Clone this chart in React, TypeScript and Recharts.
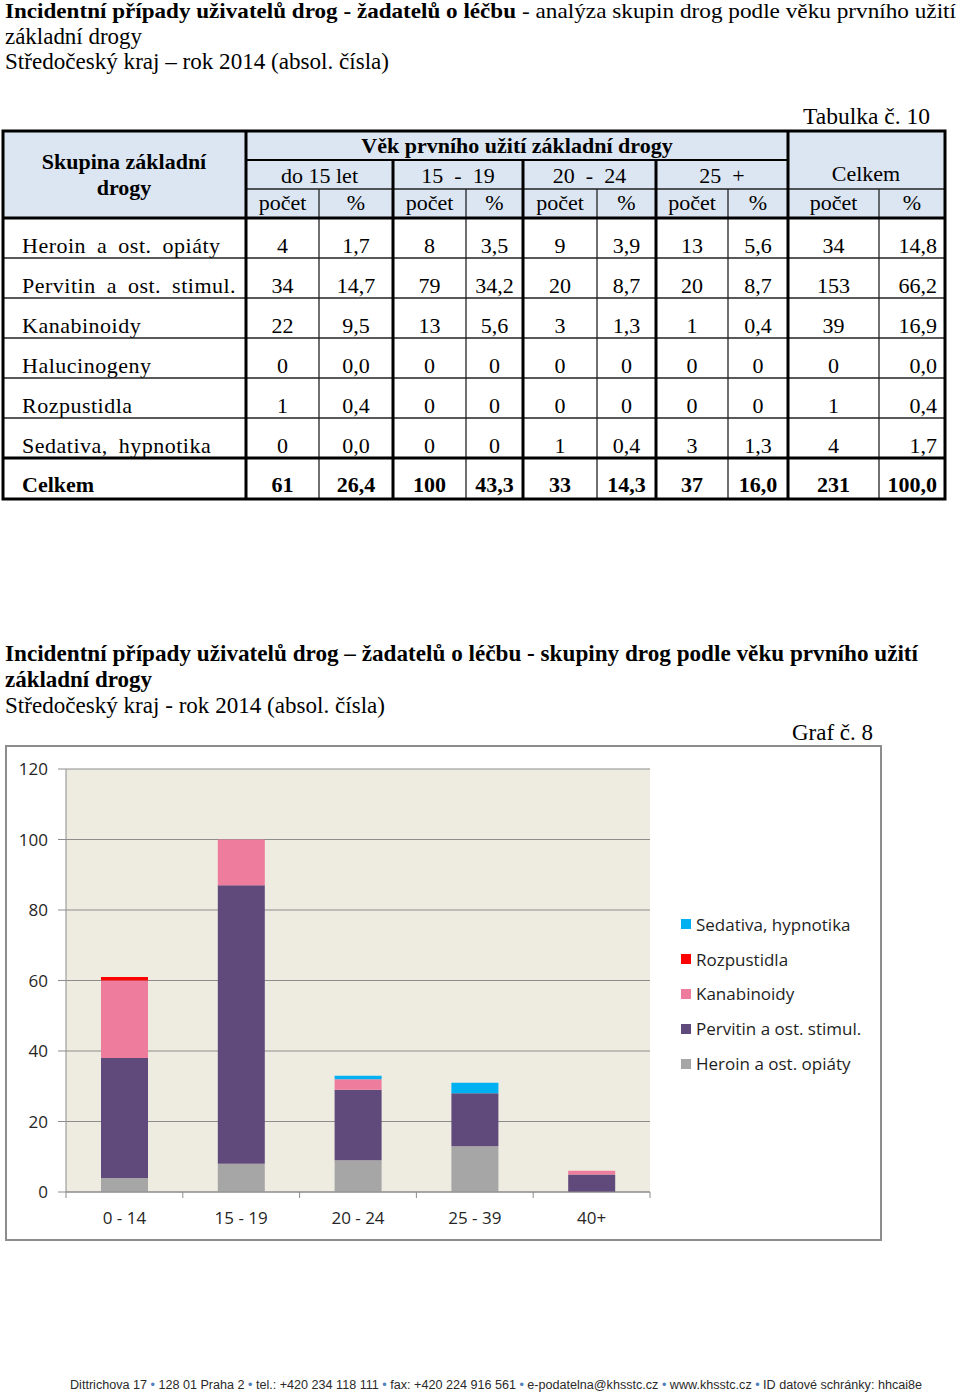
import { Bar, BarChart, CartesianGrid, Legend, XAxis, YAxis } from "recharts";

// ---- chart data (Graf č. 8) ----
const ageCategories = ["0 - 14", "15 - 19", "20 - 24", "25 - 39", "40+"];
const heroin = [4, 8, 9, 13, 0];
const pervitin = [34, 79, 20, 15, 5];
const kanabinoidy = [22, 13, 3, 0, 1];
const rozpustidla = [1, 0, 0, 0, 0];
const sedativa = [0, 0, 1, 3, 0];
const yTicks = [0, 20, 40, 60, 80, 100, 120];
// stacking order, bottom -> top (legend shows it reversed)
const seriesOrder = ["heroin", "pervitin", "kanabinoidy", "rozpustidla", "sedativa"];

// ---- table data (Tabulka č. 10) ----
const drugGroups = [
  "Heroin a ost. opiáty",
  "Pervitin a ost. stimul.",
  "Kanabinoidy",
  "Halucinogeny",
  "Rozpustidla",
  "Sedativa, hypnotika",
];
const ageHeaders = ["do 15 let", "15  -  19", "20  -  24", "25  +"];
const countU15 = ["4", "34", "22", "0", "1", "0"];
const pctU15 = ["1,7", "14,7", "9,5", "0,0", "0,4", "0,0"];
const count1519 = ["8", "79", "13", "0", "0", "0"];
const pct1519 = ["3,5", "34,2", "5,6", "0", "0", "0"];
const count2024 = ["9", "20", "3", "0", "0", "1"];
const pct2024 = ["3,9", "8,7", "1,3", "0", "0", "0,4"];
const count25 = ["13", "20", "1", "0", "0", "3"];
const pct25 = ["5,6", "8,7", "0,4", "0", "0", "1,3"];
const countTotal = ["34", "153", "39", "0", "1", "4"];
const pctTotal = ["14,8", "66,2", "16,9", "0,0", "0,4", "1,7"];
const totalsRow = ["61", "26,4", "100", "43,3", "33", "14,3", "37", "16,0", "231", "100,0"];

const footerParts = [
  "Dittrichova 17",
  "128 01 Praha 2",
  "tel.: +420 234 118 111",
  "fax: +420 224 916 561",
  "e-podatelna@khsstc.cz",
  "www.khsstc.cz",
  "ID datové schránky: hhcai8e",
];

const chartData = ageCategories.map((age, i) => ({
  age,
  heroin: heroin[i],
  pervitin: pervitin[i],
  kanabinoidy: kanabinoidy[i],
  rozpustidla: rozpustidla[i],
  sedativa: sedativa[i],
}));

const SERIF = '"Liberation Serif", "Times New Roman", serif';
const SANS = '"Open Sans", "Noto Sans", sans-serif';
const AXIS = "#8C8C8C";

// table geometry
const colX = [3, 246, 319, 393, 466, 523, 597, 656, 728, 788, 879, 945];
const rowY = [218, 258, 298, 338, 378, 418, 458, 499];

const CHART_W = 876;
const CHART_H = 494;
const MARGIN = { top: 23, right: 231, bottom: 18, left: 0 };
const Y_AXIS_W = 61;
const X_TICK_GAP = 20;
const HALF_BAND = (CHART_W - MARGIN.right - MARGIN.left - Y_AXIS_W) / ageCategories.length / 2;

function CategoryTick(props: any) {
  const { x, y, payload, index } = props;
  const half = payload?.offset || HALF_BAND;
  const axisY = y - X_TICK_GAP;
  return (
    <g>
      {index === 0 && (
        <line x1={x - half} x2={x - half} y1={axisY} y2={axisY + 6} stroke={AXIS} />
      )}
      <line x1={x + half} x2={x + half} y1={axisY} y2={axisY + 6} stroke={AXIS} />
      <text
        x={x}
        y={y}
        dy="0.71em"
        textAnchor="middle"
        fill="#262626"
        fontSize={17}
        fontFamily={SANS}
      >
        {payload.value}
      </text>
    </g>
  );
}

function LegendBox(props: any) {
  const items = [...(props.payload ?? [])].sort(
    (a: any, b: any) => seriesOrder.indexOf(b.dataKey) - seriesOrder.indexOf(a.dataKey)
  );
  return (
    <div style={{ fontFamily: SANS, fontSize: 17, color: "#1e1e1e" }}>
      {items.map((it: any) => (
        <div
          key={it.value}
          style={{ height: 34.8, display: "flex", alignItems: "center", whiteSpace: "nowrap" }}
        >
          <span
            style={{
              width: 10,
              height: 10,
              background: it.color,
              marginRight: 5,
              display: "inline-block",
            }}
          />
          <span>{it.value}</span>
        </div>
      ))}
    </div>
  );
}

function TableSvg() {
  const center = (a: number, b: number) => (colX[a] + colX[b]) / 2;
  const columns = [countU15, pctU15, count1519, pct1519, count2024, pct2024, count25, pct25, countTotal, pctTotal];
  const cellText = (v: string, c: number, baseline: number, bold = false) => {
    const last = c === columns.length - 1;
    return (
      <text
        key={`${c}-${baseline}`}
        x={last ? colX[c + 2] - 8 : center(c + 1, c + 2)}
        y={baseline}
        textAnchor={last ? "end" : "middle"}
        fontWeight={bold ? "bold" : "normal"}
      >
        {v}
      </text>
    );
  };
  return (
    <g fontFamily={SERIF} fontSize={22} fill="#000">
      <rect x={3} y={131} width={942} height={87} fill="#DCE6F2" />
      {/* header text */}
      <text x={124} y={169} textAnchor="middle" fontWeight="bold">Skupina základní</text>
      <text x={124} y={195} textAnchor="middle" fontWeight="bold">drogy</text>
      <text x={517} y={153} textAnchor="middle" fontWeight="bold">Věk prvního užití základní drogy</text>
      {ageHeaders.map((h, i) => (
        <text key={h} x={center(1 + i * 2, 3 + i * 2)} y={183} textAnchor="middle" style={{ whiteSpace: "pre" }}>
          {h}
        </text>
      ))}
      <text x={866} y={181} textAnchor="middle">Celkem</text>
      {columns.map((_, c) => (
        <text key={c} x={center(c + 1, c + 2)} y={210} textAnchor="middle">
          {c % 2 === 0 ? "počet" : "%"}
        </text>
      ))}
      {/* body */}
      {drugGroups.map((g, r) => (
        <text key={g} x={22} y={rowY[r + 1] - 5} letterSpacing={0.5} wordSpacing={5}>
          {g}
        </text>
      ))}
      {drugGroups.map((_, r) => columns.map((col, c) => cellText(col[r], c, rowY[r + 1] - 5)))}
      <text x={22} y={492} fontWeight="bold">Celkem</text>
      {totalsRow.map((v, c) => cellText(v, c, 492, true))}
      {/* thin lines */}
      <g stroke="#222" strokeWidth={1.3}>
        {rowY.slice(1, 6).map((y) => (
          <line key={y} x1={3} x2={945} y1={y} y2={y} />
        ))}
        <line x1={246} x2={945} y1={189} y2={189} />
        {[2, 4, 6, 8, 10].map((c) => (
          <line key={c} x1={colX[c]} x2={colX[c]} y1={189} y2={499} />
        ))}
      </g>
      <g stroke="#000" strokeWidth={2}>
        <line x1={246} x2={788} y1={160} y2={160} />
      </g>
      <g stroke="#000" strokeWidth={3}>
        <line x1={3} x2={945} y1={218} y2={218} />
        <line x1={3} x2={945} y1={458} y2={458} />
        <line x1={246} x2={246} y1={131} y2={499} />
        <line x1={788} x2={788} y1={131} y2={499} />
        {[3, 5, 7].map((c) => (
          <line key={c} x1={colX[c]} x2={colX[c]} y1={160} y2={499} />
        ))}
        <rect x={3} y={131} width={942} height={368} fill="none" />
      </g>
    </g>
  );
}

export default function App() {
  return (
    <div style={{ position: "absolute", left: 0, top: 0, width: 960, height: 1394, background: "#fff" }}>
      <svg width={960} height={1394} style={{ position: "absolute", left: 0, top: 0 }}>
        <g fontFamily={SERIF} fontSize={23} fill="#000">
          <text x={5} y={18} fontSize={21} fontWeight="bold" textLength={511} lengthAdjust="spacingAndGlyphs">
            Incidentní případy uživatelů drog - žadatelů o léčbu
          </text>
          <text x={522} y={18} fontSize={21} textLength={434} lengthAdjust="spacingAndGlyphs">
            - analýza skupin drog podle věku prvního užití
          </text>
          <text x={5} y={44} textLength={137} lengthAdjust="spacingAndGlyphs">základní drogy</text>
          <text x={5} y={69} textLength={384} lengthAdjust="spacingAndGlyphs">
            Středočeský kraj – rok 2014 (absol. čísla)
          </text>
          <text x={803} y={124} textLength={127} lengthAdjust="spacingAndGlyphs">Tabulka č. 10</text>

          <text x={5} y={661} fontWeight="bold" textLength={913} lengthAdjust="spacingAndGlyphs">
            Incidentní případy uživatelů drog – žadatelů o léčbu - skupiny drog podle věku prvního užití
          </text>
          <text x={5} y={687} fontWeight="bold" textLength={147} lengthAdjust="spacingAndGlyphs">
            základní drogy
          </text>
          <text x={5} y={713} textLength={380} lengthAdjust="spacingAndGlyphs">
            Středočeský kraj - rok 2014 (absol. čísla)
          </text>
          <text x={792} y={740} textLength={81} lengthAdjust="spacingAndGlyphs">Graf č. 8</text>
        </g>
        <text
          x={70}
          y={1389}
          fontFamily='"Liberation Sans", Arial, sans-serif'
          fontSize={12}
          fill="#2a2a2a"
          textLength={852}
          lengthAdjust="spacingAndGlyphs"
        >
          {footerParts.map((p, i) => (
            <tspan key={p}>
              {i > 0 && <tspan fill="#4F81BD">{" • "}</tspan>}
              {p}
            </tspan>
          ))}
        </text>
        <TableSvg />
      </svg>

      <div
        style={{
          position: "absolute",
          left: 5,
          top: 745,
          width: 877,
          height: 496,
          border: "2px solid #8D8D8D",
          boxSizing: "border-box",
        }}
      />
      <div style={{ position: "absolute", left: 5, top: 746 }}>
        <BarChart width={CHART_W} height={CHART_H} data={chartData} margin={MARGIN}>
          <CartesianGrid vertical={false} stroke={AXIS} fill="#EEECE1" fillOpacity={1} />
          <XAxis
            dataKey="age"
            height={30}
            tickSize={0}
            tickMargin={X_TICK_GAP}
            axisLine={{ stroke: AXIS }}
            tickLine={false}
            tick={<CategoryTick />}
            interval={0}
          />
          <YAxis
            width={Y_AXIS_W}
            domain={[0, 120]}
            ticks={yTicks}
            interval={0}
            tickSize={8}
            tickMargin={10}
            axisLine={{ stroke: AXIS }}
            tickLine={{ stroke: AXIS }}
            tick={{ fill: "#262626", fontSize: 17, fontFamily: SANS }}
          />
          <Legend
            layout="vertical"
            align="center"
            verticalAlign="middle"
            content={<LegendBox />}
            wrapperStyle={{ left: 676, top: 161, width: 200 }}
          />
          <Bar dataKey="heroin" name="Heroin a ost. opiáty" stackId="a" fill="#A6A6A6" barSize={47} isAnimationActive={false} />
          <Bar dataKey="pervitin" name="Pervitin a ost. stimul." stackId="a" fill="#604A7B" barSize={47} isAnimationActive={false} />
          <Bar dataKey="kanabinoidy" name="Kanabinoidy" stackId="a" fill="#EE7C9C" barSize={47} isAnimationActive={false} />
          <Bar dataKey="rozpustidla" name="Rozpustidla" stackId="a" fill="#FF0000" barSize={47} isAnimationActive={false} />
          <Bar dataKey="sedativa" name="Sedativa, hypnotika" stackId="a" fill="#00B0F0" barSize={47} isAnimationActive={false} />
        </BarChart>
      </div>
    </div>
  );
}
